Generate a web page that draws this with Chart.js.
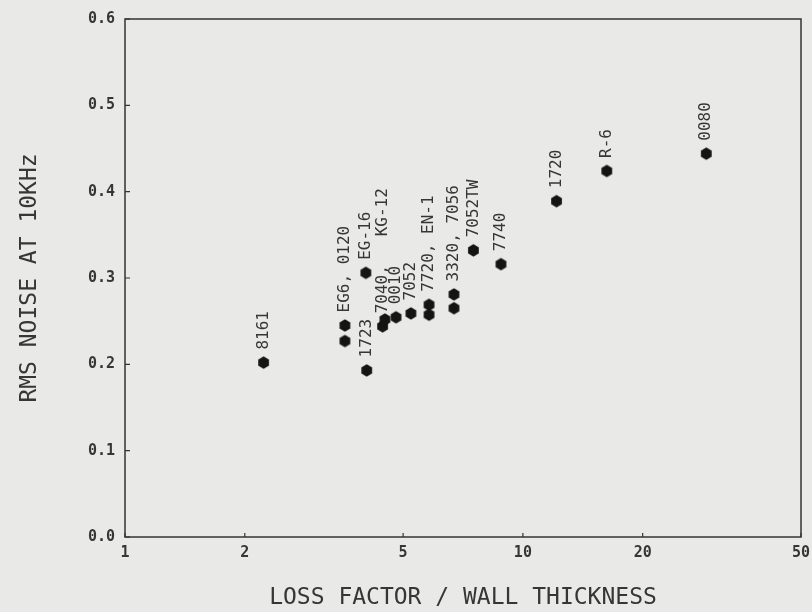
<!DOCTYPE html>
<html>
<head>
<meta charset="utf-8">
<script src="https://cdn.jsdelivr.net/npm/chart.js@4.4.1/dist/chart.umd.min.js"></script>
<style>
  html, body { margin: 0; padding: 0; background: #e9e9e7; }
  canvas { display: block; }
</style>
</head>
<body>
<canvas id="noiseChart" width="812" height="612"></canvas>
<script>
// Valores (factor de pérdida / espesor vs ruido RMS)
const lossFactor = [2.23, 3.57, 3.57, 4.03, 4.05, 4.44, 4.50, 4.80, 5.23, 5.81, 5.81, 6.71, 6.71, 7.51, 8.81, 12.15, 16.25, 28.9];
const rmsNoise   = [0.202, 0.245, 0.227, 0.306, 0.193, 0.244, 0.252, 0.2545, 0.259, 0.269, 0.2575, 0.281, 0.265, 0.332, 0.316, 0.389, 0.424, 0.444];
const glassNames = ['8161', 'EG6, 0120', '', 'EG-16', '1723', '7040,   KG-12', '', '0010', '7052', '7720, EN-1', '', '3320, 7056', '', '7052TW', '7740', '1720', 'R-6', '0080'];
const xTickValues = [1, 2, 5, 10, 20, 50];
const yTickStep = 0.1;

const FONT = '"DejaVu Sans Mono", "Liberation Mono", monospace';
const INK = '#363636';

// Marcador hexagonal (como el del plotter)
function hexSprite(r, color) {
    const s = Math.ceil(r * 2) + 2;
    const c = document.createElement('canvas');
    c.width = c.height = s;
    const g = c.getContext('2d');
    g.fillStyle = color;
    g.beginPath();
    for (let k = 0; k < 6; k++) {
        const a = Math.PI / 3 * k - Math.PI / 2;
        const px = s / 2 + r * Math.cos(a);
        const py = s / 2 + r * Math.sin(a);
        if (k === 0) g.moveTo(px, py); else g.lineTo(px, py);
    }
    g.closePath();
    g.fill();
    return c;
}

// Marco completo y marcas hacia dentro
const plotFrame = {
    id: 'plotFrame',
    beforeDatasetsDraw(chart) {
        const { ctx, chartArea: a, scales: { x, y } } = chart;
        ctx.save();
        ctx.strokeStyle = '#333';
        ctx.lineWidth = 1.5;
        ctx.strokeRect(a.left, a.top, a.right - a.left, a.bottom - a.top);
        ctx.lineWidth = 1.2;
        ctx.beginPath();
        x.ticks.forEach(t => {
            const px = x.getPixelForValue(t.value);
            ctx.moveTo(px, a.bottom);
            ctx.lineTo(px, a.bottom - 4);
        });
        y.ticks.forEach(t => {
            const py = y.getPixelForValue(t.value);
            ctx.moveTo(a.left, py);
            ctx.lineTo(a.left + 5, py);
        });
        ctx.stroke();
        ctx.restore();
    }
};

// Etiquetas verticales encima de cada punto
const pointLabels = {
    id: 'pointLabels',
    afterDatasetsDraw(chart) {
        const ctx = chart.ctx;
        const meta = chart.getDatasetMeta(0);
        ctx.save();
        ctx.font = '16px ' + FONT;
        ctx.fillStyle = INK;
        ctx.textAlign = 'left';
        ctx.textBaseline = 'middle';
        meta.data.forEach((pt, i) => {
            const text = glassNames[i];
            if (!text) return;
            ctx.save();
            ctx.translate(pt.x, pt.y - 13);
            ctx.rotate(-Math.PI / 2);
            ctx.fillText(text, 0, 0);
            ctx.restore();
        });
        ctx.restore();
    }
};

new Chart(document.getElementById('noiseChart'), {
    type: 'scatter',
    data: {
        datasets: [{
            data: lossFactor.map((v, i) => ({ x: v, y: rmsNoise[i] })),
            pointStyle: hexSprite(6.2, '#141414'),
            pointRadius: 7,
            pointHoverRadius: 7
        }]
    },
    options: {
        responsive: false,
        animation: false,
        devicePixelRatio: 1,
        layout: { padding: { top: 16, right: 11, left: 0, bottom: 0 } },
        plugins: {
            legend: { display: false },
            tooltip: { enabled: false }
        },
        scales: {
            x: {
                type: 'logarithmic',
                min: 1,
                max: 50,
                afterBuildTicks: scale => {
                    scale.ticks = xTickValues.map(v => ({ value: v }));
                },
                afterFit: scale => {
                    scale.height = 75;
                    scale.paddingLeft = 0;
                    scale.paddingRight = 0;
                },
                grid: { display: false, drawTicks: false },
                border: { display: false },
                ticks: {
                    padding: 7,
                    color: INK,
                    font: { family: FONT, size: 15, weight: 'bold' },
                    autoSkip: false,
                    maxRotation: 0,
                    callback: v => String(v)
                },
                title: {
                    display: true,
                    text: 'LOSS FACTOR / WALL THICKNESS',
                    color: INK,
                    font: { family: FONT, size: 23 },
                    padding: { top: 0, bottom: 0 }
                }
            },
            y: {
                min: 0,
                max: 0.6,
                afterFit: scale => { scale.width = 125; },
                grid: { display: false, drawTicks: false },
                border: { display: false },
                ticks: {
                    stepSize: yTickStep,
                    padding: 10,
                    color: INK,
                    font: { family: FONT, size: 15, weight: 'bold' },
                    callback: v => Number(v).toFixed(1)
                },
                title: {
                    display: true,
                    text: 'RMS NOISE AT 10KHz',
                    color: INK,
                    font: { family: FONT, size: 23 },
                    padding: { top: 16, bottom: 0 }
                }
            }
        }
    },
    plugins: [plotFrame, pointLabels]
});
</script>
</body>
</html>
